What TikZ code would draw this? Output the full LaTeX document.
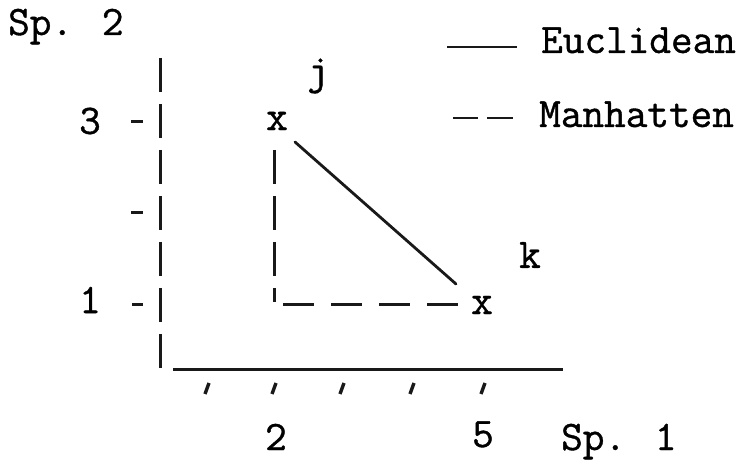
\documentclass[tikz,border=0pt]{standalone}
\usepackage{fontspec}
\newfontfamily\twfont{Latin Modern Mono}[FakeBold=0.9]
\begin{document}
\begin{tikzpicture}[x=1pt,y=-1pt,
  lbl/.style={inner sep=0pt,font=\twfont\fontsize{42}{48}\selectfont},
  ink/.style={line width=3pt,black!90},
  axisdash/.style={ink,dash pattern=on 34pt off 12pt},
  mandash/.style={ink,dash pattern=on 31pt off 17pt},
  tickmark/.style={line width=3.4pt,black!90}]
\useasboundingbox (0,0) rectangle (750,462);
% axis labels
\node[lbl,anchor=base west] (sp2) at (8,35) {Sp. 2};
\node[lbl,anchor=base west] (sp1) at (561,450) {Sp. 1};
% y axis (typed bars)
\coordinate (ytop) at (160,58);
\coordinate (ybot) at (160,370);
\draw[axisdash] (ytop) -- (ybot);
% x axis
\coordinate (xl) at (173,370);
\coordinate (xr) at (563,370);
\draw[ink] (xl) -- (xr);
% y ticks and labels
\node[lbl] (y3) at (90,121) {3};
\node[lbl] (y1) at (90,300) {1};
\draw[ink] (131,122) -- (143,122);
\draw[ink] (131,213) -- (143,213);
\draw[ink] (132,305) -- (143,305);
% x ticks
\foreach \t in {207,274,342,412,483}{
  \draw[tickmark] (\t+2,383) -- (\t-2,394);
}
\node[lbl,anchor=base] (x2) at (276,450) {2};
\node[lbl,anchor=base] (x5) at (483,447) {5};
% points
\node[lbl] (pj) at (277,121) {x};
\node[lbl] (lj) at (318,76) {j};
\node[lbl] (pk) at (482,305) {x};
\node[lbl] (lk) at (530,255) {k};
% Manhattan path
\coordinate (mv1) at (274,150);
\coordinate (mv2) at (274,302);
\coordinate (mh1) at (283,305);
\coordinate (mh2) at (458,305);
\draw[axisdash] (mv1) -- (mv2);
\draw[mandash] (mh1) -- (mh2);
% Euclidean line
\coordinate (e1) at (295,142);
\coordinate (e2) at (456,284);
\draw[line width=2.8pt,black!90,line cap=round] (e1) -- (e2);
% legend
\coordinate (l1a) at (447,47);
\coordinate (l1b) at (517,47);
\draw[line width=2.6pt,black!90] (l1a) -- (l1b);
\node[lbl,anchor=base west] (leu) at (541,53) {Euclidean};
\coordinate (l2a) at (453,118);
\coordinate (l2b) at (478,118);
\coordinate (l2c) at (487,118);
\coordinate (l2d) at (513,118);
\draw[line width=2.6pt,black!90] (l2a) -- (l2b);
\draw[line width=2.6pt,black!90] (l2c) -- (l2d);
\node[lbl,anchor=base west] (lma) at (539,127) {Manhatten};
\end{tikzpicture}
\end{document}
